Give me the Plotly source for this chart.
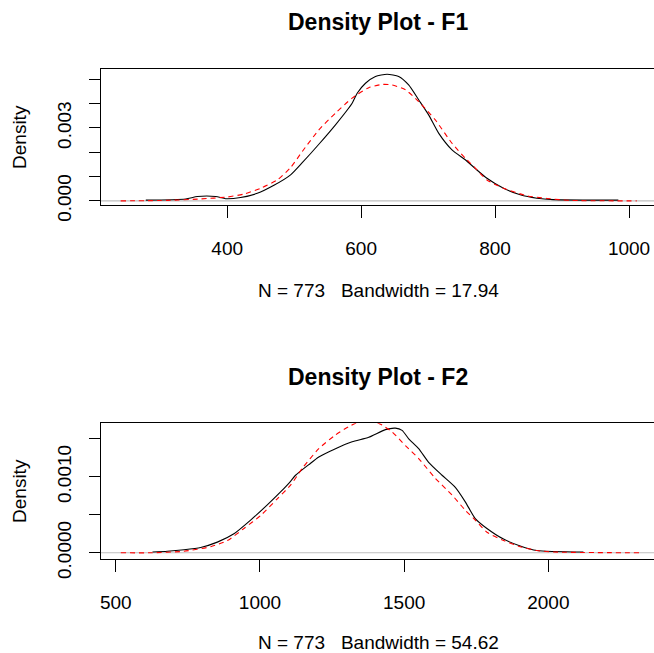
import plotly.graph_objects as go

# ---------------- data ----------------
f1_kde_x = [278.5, 338, 355.6, 382.9, 397.8, 420.1, 445, 469.8, 494.7, 512.1, 536.9, 561.7,
            586.6, 594.1, 606.5, 621.4, 638.8, 656.1, 671, 685.9, 700.8, 715.7, 735.7,
            755.5, 770.5, 787.9, 812.6, 837.5, 862.4, 886.7, 984.1]
f1_kde_y = [0.00003, 0.00008, 0.00018, 0.00018, 0.00009, 0.00014, 0.00031, 0.00064, 0.00107,
            0.00157, 0.00233, 0.00313, 0.00402, 0.00443, 0.00484, 0.00512, 0.00521, 0.00512,
            0.00477, 0.00416, 0.00354, 0.00279, 0.00210, 0.00169, 0.00133, 0.00093, 0.00052,
            0.00025, 0.00011, 0.00005, 0.00003]
f1_norm_x = [241, 310.9, 360.5, 400.3, 425, 450, 474.8, 494.7, 512.1, 536.9, 561.7, 586.6,
             611.4, 631.4, 646.3, 666.1, 685.9, 710.8, 735.7, 755.5, 770.5, 787.9, 812.6,
             847.5, 877.3, 912, 1011.5]
f1_norm_y = [0.0, 0.00002, 0.00008, 0.00016, 0.00028, 0.00052, 0.00086, 0.00137, 0.00203,
             0.00292, 0.00361, 0.00423, 0.00466, 0.00479, 0.00477, 0.00457, 0.00409, 0.00333,
             0.00237, 0.00176, 0.00135, 0.00086, 0.00052, 0.00021, 0.00010, 0.00002, 0.0]

f2_kde_x = [627.1, 679, 736.5, 794.3, 852.1, 909.6, 967.5, 1025.3, 1071.3, 1106, 1123.3,
            1169.3, 1203.9, 1261.8, 1319.6, 1377.1, 1434.9, 1469.5, 1492.7, 1515.6, 1550.2,
            1584.8, 1631.2, 1677.3, 1711.9, 1746.5, 1787, 1844.5, 1902.4, 1960.2, 2121.5]
f2_kde_y = [0.00001, 0.00002, 0.00004, 0.00007, 0.00014, 0.00025, 0.00043, 0.00063, 0.00080,
            0.00094, 0.00102, 0.00116, 0.00126, 0.00137, 0.00146, 0.00152, 0.00162, 0.00164,
            0.00161, 0.00150, 0.00137, 0.00119, 0.00102, 0.00086, 0.00067, 0.00045, 0.00032,
            0.00018, 0.00009, 0.00003, 0.00001]
f2_norm_x = [517.3, 621.2, 736.5, 828.9, 886.8, 944.3, 1002.1, 1059.9, 1106, 1146.5, 1203.9,
             1261.8, 1307.8, 1342.5, 1371.5, 1400.3, 1423.5, 1458.1, 1504.2, 1550.2, 1608,
             1665.9, 1711.9, 1746.5, 1787, 1844.5, 1902.4, 1960.2, 2017.7, 2317.9]
f2_norm_y = [0.0, 0.00000, 0.00002, 0.00008, 0.00016, 0.00032, 0.00049, 0.00071, 0.00089,
             0.00111, 0.00137, 0.00155, 0.00166, 0.00172, 0.00173, 0.00172, 0.00168, 0.00159,
             0.00141, 0.00124, 0.00098, 0.00076, 0.00056, 0.00043, 0.00027, 0.00016, 0.00008,
             0.00003, 0.00001, 0.0]

titles = ["Density Plot - F1", "Density Plot - F2"]
subtitles = ["N = 773   Bandwidth = 17.94", "N = 773   Bandwidth = 54.62"]
y_label = "Density"

f1_xticks = [400, 600, 800, 1000]
f1_yticks = [0, 0.001, 0.002, 0.003, 0.004, 0.005]
f1_yticktext = ["0.000", "", "", "0.003", "", ""]
f2_xticks = [500, 1000, 1500, 2000]
f2_yticks = [0, 0.0005, 0.001, 0.0015]
f2_yticktext = ["0.0000", "", "0.0010", ""]

# ---------------- figure ----------------
W, H = 654, 673
S = 653 / 673          # observed vertical scale of the screenshot
FONT = "Liberation Sans, Arial, sans-serif"

def py(p):  # target screen pixel (from top) -> paper fraction
    return 1 - (p / S) / H

fig = go.Figure()
line_black = dict(color="black", width=1.1, shape="spline", smoothing=0.6)
line_red = dict(color="red", width=1.1, dash="5px,4px", shape="spline", smoothing=0.6)

fig.add_trace(go.Scatter(x=f1_kde_x, y=f1_kde_y, mode="lines", line=line_black,
                         xaxis="x", yaxis="y", showlegend=False, hoverinfo="skip"))
fig.add_trace(go.Scatter(x=f1_norm_x, y=f1_norm_y, mode="lines", line=line_red,
                         xaxis="x", yaxis="y", showlegend=False, hoverinfo="skip"))
fig.add_trace(go.Scatter(x=f2_kde_x, y=f2_kde_y, mode="lines", line=line_black,
                         xaxis="x2", yaxis="y2", showlegend=False, hoverinfo="skip"))
fig.add_trace(go.Scatter(x=f2_norm_x, y=f2_norm_y, mode="lines", line=line_red,
                         xaxis="x2", yaxis="y2", showlegend=False, hoverinfo="skip"))

xdom = [100 / W, 1.0]
top_dom = [py(205), py(69)]
bot_dom = [py(559), py(423.3)]

common_x = dict(showgrid=False, zeroline=False, showline=True, mirror=True,
                linecolor="black", linewidth=1, ticks="outside", ticklen=12,
                tickwidth=1, tickcolor="black", ticklabelstandoff=14,
                tickfont=dict(family=FONT, size=19, color="black"))
common_y = dict(showgrid=False, zeroline=False, showline=True, mirror=False,
                linecolor="black", linewidth=1, ticks="outside", ticklen=11,
                tickwidth=1, tickcolor="black", tickangle=-90, ticklabelstandoff=10,
                tickfont=dict(family=FONT, size=19, color="black"))

fig.update_layout(
    width=W, height=H, autosize=False, margin=dict(l=0, r=0, t=0, b=0, pad=0),
    paper_bgcolor="white", plot_bgcolor="white",
    xaxis=dict(domain=xdom, range=[211.4, 1037.3], tickvals=f1_xticks, anchor="y", **common_x),
    yaxis=dict(domain=top_dom, range=[-0.00017, 0.005427], tickvals=f1_yticks,
               ticktext=f1_yticktext, anchor="x", **common_y),
    xaxis2=dict(domain=xdom, range=[448.1, 2366.3], tickvals=f2_xticks, anchor="y2", **common_x),
    yaxis2=dict(domain=bot_dom, range=[-0.000082, 0.0017035], tickvals=f2_yticks,
                ticktext=f2_yticktext, anchor="x2", **common_y),
)

for xr, yr in (("x", "y"), ("x2", "y2")):
    fig.add_shape(type="line", xref=f"{xr} domain", yref=yr, x0=0, x1=1, y0=0, y1=0,
                  line=dict(color="#BEBEBE", width=1.2), layer="below")

cx = 378 / W
annos = [
    (titles[0], cx, py(22), 23, True, 0),
    (subtitles[0], cx, py(290), 19, False, 0),
    (titles[1], cx, py(377), 23, True, 0),
    (subtitles[1], cx, py(642), 19, False, 0),
    (y_label, 18 / W, py(137), 19, False, -90),
    (y_label, 18 / W, py(491), 19, False, -90),
]
for text, x, y, size, bold, ang in annos:
    fig.add_annotation(text=f"<b>{text}</b>" if bold else text, x=x, y=y,
                       xref="paper", yref="paper", showarrow=False, textangle=ang,
                       xanchor="center", yanchor="middle",
                       font=dict(family=FONT, size=size, color="black"))

fig.write_html("out.html", config={"responsive": False})
